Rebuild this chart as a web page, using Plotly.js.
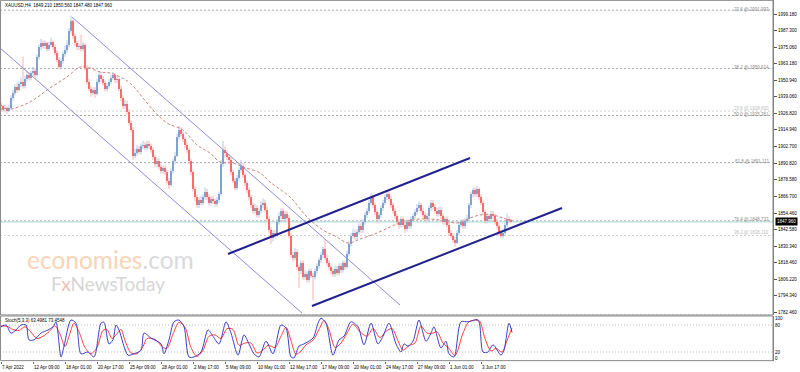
<!DOCTYPE html>
<html><head><meta charset="utf-8">
<script src="https://cdn.plot.ly/plotly-3.0.1.min.js"></script>
<style>html,body{margin:0;padding:0;background:#fff}#chart{width:800px;height:372px}</style>
</head><body><div id="chart"></div>
<script>
// ---------- DATA ----------
const open = [1933,1932,1930,1931,1929,1931,1938,1942,1946,1944,
1948,1950,1947,1952,1955,1953,1956,1958,1955,1968,
1975,1978,1976,1978,1974,1977,1979,1975,1971,1966,
1961,1965,1970,1973,1977,1987,1994,1983,1978,1975,
1976,1974,1977,1960,1950,1945,1942,1944,1941,1950,
1955,1952,1949,1945,1947,1950,1953,1955,1951,1952,
1945,1938,1932,1934,1928,1920,1915,1896,1898,1901,
1899,1903,1904,1902,1905,1903,1900,1895,1890,1892,
1888,1885,1887,1884,1878,1875,1885,1892,1896,1910,
1915,1912,1908,1904,1900,1892,1884,1872,1866,1860,
1864,1862,1866,1870,1866,1862,1865,1863,1861,1864,
1868,1890,1900,1898,1895,1893,1884,1878,1873,1880,
1886,1889,1882,1876,1871,1866,1860,1856,1858,1853,
1856,1860,1862,1857,1850,1842,1836,1840,1838,1848,
1852,1856,1850,1854,1851,1838,1824,1822,1826,1815,
1812,1818,1808,1810,1806,1812,1809,1808,1812,1816,
1820,1824,1828,1822,1818,1815,1812,1810,1814,1811,
1816,1813,1818,1815,1825,1832,1838,1840,1837,1841,
1845,1842,1848,1853,1856,1862,1866,1860,1855,1850,
1853,1858,1862,1866,1868,1865,1860,1856,1852,1848,
1846,1850,1846,1843,1848,1845,1850,1852,1855,1858,
1860,1856,1853,1850,1852,1858,1862,1859,1856,1854,
1857,1852,1848,1850,1846,1840,1838,1835,1833,1840,
1846,1848,1845,1849,1850,1860,1868,1871,1868,1872,
1866,1862,1855,1849,1852,1850,1854,1852,1848,1845,
1840,1838,1840,1846,1850,1849.21];

const high = [1935,1933,1933,1932,1933,1940,1944,1948,1949,1950,
1953,1968,1954,1958,1957,1958,1961,1960,1970,1977,
1981,1980,1980,1979,1979,1982,1980,1977,1973,1968,
1967,1972,1976,1980,1989,1998,1995,1985,1980,1978,
1984,1979,1978,1962,1952,1947,1946,1946,1952,1957,
1957,1954,1951,1949,1952,1955,1957,1956,1954,1953,
1947,1940,1937,1936,1930,1922,1917,1901,1904,1903,
1905,1907,1906,1907,1907,1905,1902,1897,1895,1894,
1890,1889,1889,1886,1880,1887,1894,1899,1912,1918,
1917,1914,1910,1906,1902,1894,1886,1874,1868,1866,
1867,1868,1873,1872,1868,1867,1867,1865,1866,1870,
1893,1907,1903,1900,1897,1895,1886,1880,1882,1888,
1893,1891,1884,1878,1873,1868,1862,1861,1860,1858,
1863,1865,1864,1859,1852,1844,1842,1842,1850,1855,
1858,1858,1856,1856,1853,1840,1826,1829,1828,1817,
1820,1820,1813,1812,1814,1814,1811,1814,1818,1822,
1826,1830,1835,1824,1820,1817,1814,1816,1816,1818,
1818,1820,1820,1827,1834,1840,1843,1842,1843,1847,
1847,1850,1855,1858,1864,1869,1868,1862,1857,1855,
1860,1864,1868,1871,1870,1867,1862,1858,1854,1850,
1852,1852,1848,1850,1850,1852,1854,1857,1861,1863,
1862,1858,1855,1854,1860,1864,1864,1861,1858,1859,
1859,1854,1852,1852,1848,1842,1840,1837,1842,1848,
1850,1850,1851,1853,1862,1870,1873,1873,1874,1873,
1868,1864,1857,1854,1854,1856,1856,1854,1850,1847,
1842,1843,1848,1854,1852,1850.56];

const low = [1930,1928,1929,1927,1928,1930,1936,1940,1942,1943,
1946,1945,1945,1950,1951,1951,1954,1953,1954,1966,
1973,1974,1974,1972,1972,1975,1973,1969,1964,1959,
1959,1963,1968,1971,1975,1985,1981,1976,1973,1973,
1972,1972,1958,1948,1943,1939,1940,1938,1940,1948,
1950,1947,1943,1943,1945,1948,1951,1949,1949,1943,
1936,1930,1930,1926,1918,1913,1893,1894,1896,1897,
1897,1901,1900,1900,1901,1898,1893,1888,1888,1886,
1883,1883,1882,1876,1872,1874,1883,1890,1895,1908,
1910,1906,1902,1898,1890,1882,1870,1863,1858,1858,
1860,1860,1864,1864,1860,1860,1861,1859,1859,1862,
1867,1888,1895,1893,1890,1882,1876,1871,1871,1878,
1884,1880,1874,1869,1864,1858,1854,1854,1851,1851,
1854,1858,1855,1848,1840,1832,1834,1836,1837,1846,
1850,1848,1848,1849,1836,1822,1819,1820,1813,1800,
1810,1806,1806,1804,1804,1807,1791,1806,1810,1814,
1818,1822,1820,1816,1813,1810,1808,1808,1809,1809,
1811,1811,1813,1814,1823,1830,1836,1835,1835,1839,
1840,1840,1846,1851,1854,1860,1858,1853,1848,1848,
1851,1856,1860,1864,1863,1858,1854,1850,1846,1843,
1844,1844,1840,1841,1843,1843,1848,1850,1853,1856,
1854,1851,1848,1848,1850,1856,1857,1854,1852,1852,
1850,1846,1846,1844,1838,1836,1833,1830,1832,1838,
1844,1843,1843,1847,1849,1858,1866,1866,1866,1864,
1860,1853,1847,1847,1848,1848,1850,1846,1843,1838,
1836,1836,1838,1844,1847.5,1847.48];

const close = [1932,1930,1931,1929,1931,1938,1942,1946,1944,1948,
1950,1947,1952,1955,1953,1956,1958,1955,1968,1975,
1978,1976,1978,1974,1977,1979,1975,1971,1966,1961,
1965,1970,1973,1977,1987,1994,1983,1978,1975,1976,
1974,1977,1960,1950,1945,1942,1944,1941,1950,1955,
1952,1949,1945,1947,1950,1953,1955,1951,1952,1945,
1938,1932,1934,1928,1920,1915,1896,1898,1901,1899,
1903,1904,1902,1905,1903,1900,1895,1890,1892,1888,
1885,1887,1884,1878,1875,1885,1892,1896,1910,1915,
1912,1908,1904,1900,1892,1884,1872,1866,1860,1864,
1862,1866,1870,1866,1862,1865,1863,1861,1864,1868,
1890,1900,1898,1895,1893,1884,1878,1873,1880,1886,
1889,1882,1876,1871,1866,1860,1856,1858,1853,1856,
1860,1862,1857,1850,1842,1836,1840,1838,1848,1852,
1856,1850,1854,1851,1838,1824,1822,1826,1815,1812,
1818,1808,1810,1806,1812,1809,1808,1812,1816,1820,
1824,1828,1822,1818,1815,1812,1810,1814,1811,1816,
1813,1818,1815,1825,1832,1838,1840,1837,1841,1845,
1842,1848,1853,1856,1862,1866,1860,1855,1850,1853,
1858,1862,1866,1868,1865,1860,1856,1852,1848,1846,
1850,1846,1843,1848,1845,1850,1852,1855,1858,1860,
1856,1853,1850,1852,1858,1862,1859,1856,1854,1857,
1852,1848,1850,1846,1840,1838,1835,1833,1840,1846,
1848,1845,1849,1850,1860,1868,1871,1868,1872,1866,
1862,1855,1849,1852,1850,1854,1852,1848,1845,1840,
1838,1840,1846,1850,1849.21,1847.96];

// moving average (dashed)
const maIdx = [0,3,14.5,24.5,33,39.5,44.5,49.5,54.5,59.5,64.5,76,83,91,98,104.5,109.5,116,121,129.5,134.5,144.5,153,161,168,173.5,179.5,188,194.5,199.5,209.5,219.5,228,234.5,239.5,246,251,255.5];
const maVal = [1930.1,1929.4,1935.2,1945.4,1953.4,1960.6,1959.9,1957.0,1956.3,1953.4,1949.0,1929.4,1919.9,1914.8,1903.9,1898.1,1891.5,1890.8,1887.9,1883.6,1877.0,1866.1,1851.6,1842.1,1837.0,1832.6,1835.5,1839.9,1844.3,1847.2,1850.1,1849.4,1847.2,1850.8,1853.0,1853.0,1850.8,1848.7];

// Stochastic (5,3,3)
const kIdx = [0,2.5,5,7.5,10,12.5,14,16.5,20,23.5,26,27.5,30,31.5,35,37.5,40,43.5,46.5,50,51.5,54,56,57.5,59,63.5,66.5,70,71.5,75,80,81.5,84,86.5,89,91.5,94,96.5,100,103.5,106,109,112.5,115,118.5,121.5,124,126.5,129,132.5,136,140,142.5,145,146.5,149,151.5,156,158.5,160,162.5,166,169,171.5,175,178.5,181.5,185,188.5,191,194,197.5,200,201.5,203.5,206,209,212.5,215,216.5,220,222.5,224,226.5,230,233.5,238.5,241,243.5,246,250,251.5,254,255.5];
const kVal = [76,80,62,69,80,80,47,47,62,69,76,87,9,33,91,84,16,20,9,84,86,38,47,80,69,13,16,24,62,51,38,16,47,87,91,76,9,9,20,69,55,38,87,62,13,58,38,16,9,44,16,80,73,9,7,33,38,51,84,95,84,13,47,55,87,76,36,84,38,55,84,38,20,38,33,44,91,44,62,76,29,44,16,9,87,87,91,20,20,36,13,24,84,63.4981];
const dIdx = [0,3,6,9,12,15,18,21,24,27,29.5,32,34,36.5,39,42,45,48,51,53,55.5,57.5,60,62,65,68,71,73,77,81,83,86,89,92,95,98,101,104,107,110,113,116,119,122,125,128,130.5,133.5,137,140,142.5,145,147.5,150,152.5,156,159,161.5,164,167,170,173,176,179.5,183,186,189.5,192.5,195.5,198.5,201,204,207,210,213,216,218,221,224,227,231,234,239,242,245,247.5,250.5,253,255.5];
const dVal = [78,77,70,68,76,64,50,55,65,78,60,32,55,84,65,30,16,30,68,70,50,58,70,45,18,16,32,50,48,30,28,60,86,75,30,10,24,55,58,50,72,70,35,40,40,18,22,35,30,55,75,45,15,22,36,46,70,90,70,30,40,62,82,65,55,72,52,66,72,45,24,34,40,78,62,62,65,40,28,12,62,87,90,50,22,28,20,45,73.4548];

// trend / channel lines (end points)
const descUpperIdx = [35.5,199.5], descUpperVal = [1997.0,1787.6];
const descLowerIdx = [-0.5,150.5], descLowerVal = [1974.5,1781.7];
const ascUpperIdx = [113.5,234.5], ascUpperVal = [1824.65,1894.46];
const ascLowerIdx = [155.5,280.5], ascLowerVal = [1786.84,1858.1];

// Fibonacci levels
const fibLevels = [2001.993,1959.614,1928.600,1925.361,1891.111,1848.733,1838.110,1780.230];
const fibLabels = ['23.6 @ 2001.993','38.2 @ 1959.614','23.6 @ 1928.600','50.0 @ 1925.361','61.8 @ 1891.111','76.4 @ 1848.733','38.2 @ 1838.110','100.0 @ 1780.230'];
const fibLight = [false,false,true,false,false,false,true,false];

const priceTicks = [1999.18,1987.30,1975.06,1963.18,1950.94,1939.06,1926.82,1914.94,1902.70,1890.82,1878.58,1866.70,1854.46,1842.58,1830.34,1818.46,1806.22,1794.34,1782.46];
const bidPrice = 1847.96;
const tickIdx = [0,16,32,48,64,80,96,112,128,144,160,176,192,208,224,240];
const tickText = ['7 Apr 2022','12 Apr 09:00','18 Apr 01:00','20 Apr 17:00','25 Apr 09:00','28 Apr 01:00','2 May 17:00','5 May 09:00','10 May 01:00','12 May 17:00','17 May 09:00','20 May 01:00','24 May 17:00','27 May 09:00','1 Jun 01:00','3 Jun 17:00'];
const headerText = 'XAUUSD,H4  1849.210 1850.560 1847.480 1847.960';
const stochText = 'Stoch(5,3,3) 63.4981 73.4548';

// ---------- RENDER ----------
const FONT = 'Liberation Sans, Arial, sans-serif';
const FS = 4.5;
const PH = 361;                       // plot-area height in px
const mainLo = 46/PH, stochHi = 45/PH; // panel domains

const barIndex = close.map((_, i) => i);
const upX=[],upY=[],dnX=[],dnY=[];
barIndex.forEach(i => {
  const up = close[i] >= open[i];
  (up?upX:dnX).push(i,i,null);
  (up?upY:dnY).push(low[i],high[i],null);
});
const bodyBase = barIndex.map(i => Math.min(open[i], close[i]));
const bodyLen = barIndex.map(i => Math.max(Math.abs(close[i]-open[i]), 0.6));
const bodyCol = barIndex.map(i => close[i] >= open[i] ? '#4a7ebb' : '#ff2424');

const traces = [
  {type:'scatter',mode:'lines',x:upX,y:upY,line:{color:'#b4c9e4',width:1},hoverinfo:'skip'},
  {type:'scatter',mode:'lines',x:dnX,y:dnY,line:{color:'#ffb0b0',width:1},hoverinfo:'skip'},
  {type:'bar',x:barIndex,base:bodyBase,y:bodyLen,width:0.85,marker:{color:bodyCol,line:{width:0}},hoverinfo:'skip'},
  {type:'scatter',mode:'lines',x:maIdx,y:maVal,line:{color:'#c8877a',width:1,dash:'3px,2px',shape:'spline',smoothing:1}},
  {type:'scatter',mode:'lines',x:descUpperIdx,y:descUpperVal,line:{color:'#8c8cd8',width:1}},
  {type:'scatter',mode:'lines',x:descLowerIdx,y:descLowerVal,line:{color:'#8c8cd8',width:1}},
  {type:'scatter',mode:'lines',x:ascUpperIdx,y:ascUpperVal,line:{color:'#22228f',width:2}},
  {type:'scatter',mode:'lines',x:ascLowerIdx,y:ascLowerVal,line:{color:'#22228f',width:2}},
  {type:'scatter',mode:'lines',x:dIdx,y:dVal,yaxis:'y2',line:{color:'#ff3c3c',width:1,shape:'spline',smoothing:0.8}},
  {type:'scatter',mode:'lines',x:kIdx,y:kVal,yaxis:'y2',line:{color:'#3c3cc8',width:1,shape:'spline',smoothing:0.8}}
];

const shapes = [];
fibLevels.forEach((v,k) => shapes.push({type:'line',xref:'paper',x0:0,x1:1,yref:'y',y0:v,y1:v,layer:'below',
  line:{color: fibLight[k] ? '#cfcfcf' : '#a6a6a6', width:1, dash:'2px,2px'}}));
shapes.push({type:'line',xref:'paper',x0:0,x1:1,yref:'y',y0:bidPrice,y1:bidPrice,layer:'below',line:{color:'#a9d6d6',width:1}});
[20,80].forEach(v => shapes.push({type:'line',xref:'paper',x0:0,x1:1,yref:'y2',y0:v,y1:v,layer:'below',line:{color:'#bdbdbd',width:1,dash:'1px,2px'}}));
shapes.push({type:'rect',xref:'paper',yref:'paper',x0:0.0007,x1:1,y0:mainLo,y1:0.999,line:{color:'#8a8a8a',width:1}});
shapes.push({type:'rect',xref:'paper',yref:'paper',x0:0.0007,x1:1,y0:0.001,y1:stochHi,line:{color:'#8a8a8a',width:1}});

const ann = [];
ann.push({xref:'paper',yref:'paper',x:0.004,y:1,xanchor:'left',yanchor:'top',yshift:-1,showarrow:false,text:headerText,font:{family:FONT,size:FS,color:'#000'}});
ann.push({xref:'paper',yref:'paper',x:0.004,y:(PH-320)/PH,xanchor:'left',yanchor:'middle',showarrow:false,text:stochText,font:{family:FONT,size:FS,color:'#000'}});
fibLevels.forEach((v,k) => ann.push({xref:'paper',yref:'y',x:0.998,y:v,xanchor:'right',yanchor:'middle',yshift: fibLight[k] ? 2.5 : 1,showarrow:false,
  text:fibLabels[k],font:{family:FONT,size:FS,color: fibLight[k] ? '#bdbdbd' : '#8c8c8c'}}));
ann.push({xref:'paper',yref:'y',x:1,y:bidPrice,xanchor:'left',yanchor:'middle',xshift:2,showarrow:false,text:bidPrice.toFixed(3),
  bgcolor:'#000',borderpad:1,font:{family:FONT,size:FS,color:'#fff'}});
tickIdx.forEach((t,k) => ann.push({xref:'x',yref:'paper',x:t,y:0,xanchor:'left',yanchor:'top',yshift:-1.5,xshift:-1,showarrow:false,
  text:tickText[k],font:{family:FONT,size:FS,color:'#000'}}));
// watermark
ann.push({xref:'paper',yref:'paper',x:110/773,y:(PH-259)/PH,xanchor:'center',yanchor:'middle',showarrow:false,
  text:'<span style="color:#fbd3b6">economies</span><span style="color:#dadada">.com</span>',font:{family:'Lato, Open Sans, sans-serif',size:24.5}});
ann.push({xref:'paper',yref:'paper',x:108/773,y:(PH-283)/PH,xanchor:'center',yanchor:'middle',showarrow:false,
  text:'F<span style="color:#e9c3b5">x</span>NewsToday',font:{family:'Lato, Open Sans, sans-serif',size:19,color:'#d6d6d6'}});

const layout = {
  width:800,height:372,margin:{l:0,r:27,t:0,b:11},
  paper_bgcolor:'#ffffff',plot_bgcolor:'#ffffff',showlegend:false,bargap:0,
  font:{family:FONT,size:FS,color:'#000'},
  xaxis:{domain:[0,1],range:[-0.5,386],anchor:'y2',showgrid:false,zeroline:false,showline:false,
    tickvals:tickIdx,showticklabels:false,ticks:'outside',ticklen:2,tickcolor:'#666',fixedrange:true},
  yaxis:{domain:[mainLo,1],range:[1780.29,2009.36],side:'right',anchor:'x',showgrid:false,zeroline:false,
    showline:true,linecolor:'#7a7a7a',ticks:'outside',ticklen:3,tickcolor:'#555',
    tickvals:priceTicks,ticktext:priceTicks.map(v=>v.toFixed(3)),tickfont:{family:FONT,size:FS,color:'#000'},fixedrange:true},
  yaxis2:{domain:[0,stochHi],range:[0,100],side:'right',anchor:'x',showgrid:false,zeroline:false,
    showline:true,linecolor:'#7a7a7a',ticks:'',tickvals:[6,20,80,95],ticktext:['0','20','80','100'],
    tickfont:{family:FONT,size:FS,color:'#000'},fixedrange:true},
  shapes:shapes,annotations:ann
};
Plotly.newPlot('chart',traces,layout,{displayModeBar:false,staticPlot:true});
</script></body></html>
